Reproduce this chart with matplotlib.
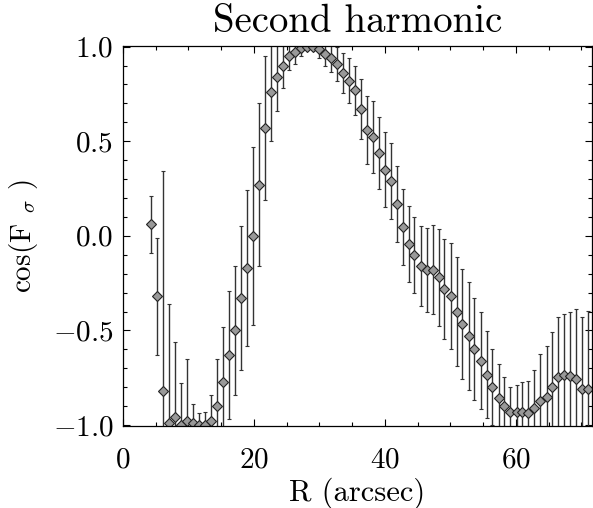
import numpy as np
import matplotlib
matplotlib.use("Agg")
import matplotlib.pyplot as plt
from matplotlib.ticker import MultipleLocator, FuncFormatter

plt.rcParams['font.family'] = 'serif'
plt.rcParams['font.serif'] = ['cmr10', 'DejaVu Serif']
plt.rcParams['mathtext.fontset'] = 'cm'
plt.rcParams['axes.formatter.use_mathtext'] = True

# radius of each point (arcsec)
r_arcsec = [4.22, 5.14, 6.05, 6.97, 7.88, 8.80, 9.72, 10.63, 11.55, 12.46,
            13.38, 14.30, 15.21, 16.13, 17.04, 17.96, 18.88, 19.79, 20.71, 21.62,
            22.54, 23.46, 24.37, 25.29, 26.20, 27.12, 28.04, 28.95, 29.87, 30.78,
            31.70, 32.62, 33.53, 34.45, 35.36, 36.28, 37.20, 38.11, 39.03, 39.94,
            40.86, 41.78, 42.69, 43.61, 44.52, 45.44, 46.36, 47.27, 48.19, 49.10,
            50.02, 50.94, 51.85, 52.77, 53.68, 54.60, 55.52, 56.43, 57.35, 58.26,
            59.18, 60.10, 61.01, 61.93, 62.84, 63.76, 64.68, 65.59, 66.51, 67.42,
            68.34, 69.26, 70.17, 71.09]

# cos(F_sigma)
cos_f = [0.06, -0.32, -0.82, -0.99, -0.96, -1.00, -0.98, -0.99, -1.00, -1.00,
         -0.98, -0.90, -0.77, -0.63, -0.50, -0.33, -0.17, 0.00, 0.27, 0.57,
         0.76, 0.84, 0.90, 0.95, 0.97, 0.99, 1.00, 1.00, 0.985, 0.96,
         0.94, 0.91, 0.86, 0.82, 0.77, 0.67, 0.56, 0.52, 0.44, 0.35,
         0.29, 0.17, 0.045, -0.045, -0.10, -0.16, -0.18, -0.18, -0.22, -0.28,
         -0.32, -0.40, -0.465, -0.53, -0.60, -0.66, -0.735, -0.80, -0.855, -0.90,
         -0.93, -0.93, -0.93, -0.935, -0.91, -0.875, -0.85, -0.80, -0.745, -0.735,
         -0.74, -0.755, -0.81, -0.81]

# error bars
cos_err = [0.15, 0.31, 1.16, 0.63, 0.40, 0.22, 0.33, 0.10, 0.065, 0.07,
           0.14, 0.25, 0.29, 0.34, 0.34, 0.38, 0.41, 0.47, 0.43, 0.38,
           0.26, 0.18, 0.12, 0.075, 0.06, 0.04, 0.015, 0.02, 0.045, 0.065,
           0.075, 0.09, 0.105, 0.12, 0.13, 0.16, 0.18, 0.19, 0.19, 0.20,
           0.20, 0.20, 0.20, 0.20, 0.20, 0.21, 0.22, 0.235, 0.255, 0.265,
           0.28, 0.29, 0.29, 0.285, 0.27, 0.255, 0.23, 0.20, 0.18, 0.155,
           0.13, 0.14, 0.16, 0.17, 0.20, 0.25, 0.27, 0.29, 0.315, 0.32,
           0.34, 0.37, 0.38, 0.415]

fig = plt.figure(figsize=(5.93, 5.08), dpi=100)
ax = fig.add_axes([0.2074, 0.1614, 0.7906, 0.748])

ax.errorbar(r_arcsec, cos_f, yerr=cos_err, fmt='D', ms=4.6,
            mfc='#999999', mec='#222222', mew=0.8,
            ecolor='#333333', elinewidth=1.0, capsize=1.7, capthick=1.0)

ax.set_xlim(0, 71.6)
ax.set_ylim(-1.005, 1.003)

ax.xaxis.set_major_locator(MultipleLocator(20))
ax.xaxis.set_minor_locator(MultipleLocator(5))
ax.yaxis.set_major_locator(MultipleLocator(0.5))
ax.yaxis.set_minor_locator(MultipleLocator(0.1))
ax.yaxis.set_major_formatter(FuncFormatter(lambda v, p: r'$%.1f$' % v))
ax.xaxis.set_major_formatter(FuncFormatter(lambda v, p: r'$%d$' % v))

ax.tick_params(which='both', direction='in', top=True, right=True, width=0.8)
ax.tick_params(which='major', length=5)
ax.tick_params(which='minor', length=3)
ax.tick_params(axis='x', labelsize=21, pad=15)
ax.tick_params(axis='y', labelsize=21, pad=7)
for s in ax.spines.values():
    s.set_linewidth(0.9)

ax.set_xlabel('R (arcsec)', fontsize=22, labelpad=3)
ax.set_ylabel(r'cos(F $_{\sigma}$ )', fontsize=21, labelpad=9)
ax.set_title('Second harmonic', fontsize=28, pad=10)

fig.savefig('out.png', dpi=100)
